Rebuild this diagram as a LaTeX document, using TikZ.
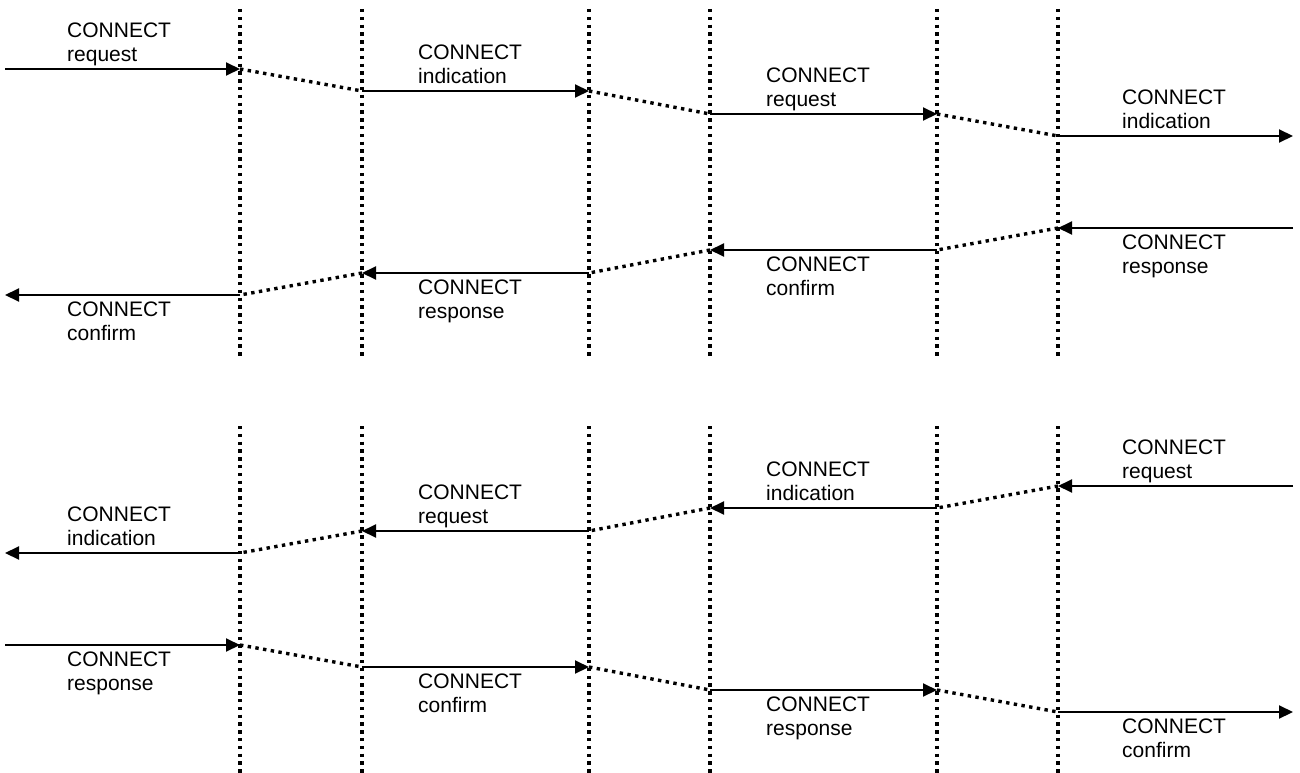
\documentclass[tikz,border=0pt]{standalone}
\usepackage{fontspec}
\setmainfont{Liberation Sans}
\usetikzlibrary{arrows.meta}
\begin{document}
\begin{tikzpicture}[x=1pt,y=-1pt,
		layer/.style={line width=3.4pt,dash pattern=on 3.4pt off 4.4pt},
		hop/.style={line width=3.4pt,dash pattern=on 3.4pt off 4.4pt},
		msg/.style={line width=2pt,-{Triangle[length=14pt,width=13pt]}},
		lbl/.style={anchor=north west,inner sep=0pt,align=left,font=\fontsize{21}{24}\selectfont}]
				\useasboundingbox (0,0) rectangle (1300,773);
				% service boundaries
				\foreach \x in {240,362,589,710,937,1058} {
					\coordinate (top\x) at (\x,9);
					\coordinate (mid\x) at (\x,356);
					\coordinate (low\x) at (\x,426);
					\coordinate (end\x) at (\x,773);
					\draw [layer] (top\x) -- (mid\x);
					\draw [layer] (low\x) -- (end\x);
				}
				% connect request -> indication
				\coordinate (A0) at (5,69);
				\coordinate (A1) at (240,69);
				\coordinate (A2) at (362,91);
				\coordinate (A3) at (589,91);
				\coordinate (A4) at (710,114);
				\coordinate (A5) at (937,114);
				\coordinate (A6) at (1058,136);
				\coordinate (A7) at (1293,136);
				\draw [msg] (A0) -- (A1);
				\draw [hop] (A1) -- (A2);
				\draw [msg] (A2) -- (A3);
				\draw [hop] (A3) -- (A4);
				\draw [msg] (A4) -- (A5);
				\draw [hop] (A5) -- (A6);
				\draw [msg] (A6) -- (A7);
				% connect response -> confirm
				\coordinate (B0) at (5,295);
				\coordinate (B1) at (240,295);
				\coordinate (B2) at (362,273);
				\coordinate (B3) at (589,273);
				\coordinate (B4) at (710,250);
				\coordinate (B5) at (937,250);
				\coordinate (B6) at (1058,228);
				\coordinate (B7) at (1293,228);
				\draw [msg] (B7) -- (B6);
				\draw [hop] (B6) -- (B5);
				\draw [msg] (B5) -- (B4);
				\draw [hop] (B4) -- (B3);
				\draw [msg] (B3) -- (B2);
				\draw [hop] (B2) -- (B1);
				\draw [msg] (B1) -- (B0);
				% reverse direction, request -> indication
				\coordinate (C0) at (5,553);
				\coordinate (C1) at (240,553);
				\coordinate (C2) at (362,531);
				\coordinate (C3) at (589,531);
				\coordinate (C4) at (710,508);
				\coordinate (C5) at (937,508);
				\coordinate (C6) at (1058,486);
				\coordinate (C7) at (1293,486);
				\draw [msg] (C7) -- (C6);
				\draw [hop] (C6) -- (C5);
				\draw [msg] (C5) -- (C4);
				\draw [hop] (C4) -- (C3);
				\draw [msg] (C3) -- (C2);
				\draw [hop] (C2) -- (C1);
				\draw [msg] (C1) -- (C0);
				% reverse direction, response -> confirm
				\coordinate (D0) at (5,645);
				\coordinate (D1) at (240,645);
				\coordinate (D2) at (362,667);
				\coordinate (D3) at (589,667);
				\coordinate (D4) at (710,690);
				\coordinate (D5) at (937,690);
				\coordinate (D6) at (1058,712);
				\coordinate (D7) at (1293,712);
				\draw [msg] (D0) -- (D1);
				\draw [hop] (D1) -- (D2);
				\draw [msg] (D2) -- (D3);
				\draw [hop] (D3) -- (D4);
				\draw [msg] (D4) -- (D5);
				\draw [hop] (D5) -- (D6);
				\draw [msg] (D6) -- (D7);
				% primitives
				\node [lbl] (a1) at (67,23) {CONNECT\\request};
				\node [lbl] (a2) at (418,45) {CONNECT\\indication};
				\node [lbl] (a3) at (766,68) {CONNECT\\request};
				\node [lbl] (a4) at (1122,90) {CONNECT\\indication};
				\node [lbl] (b1) at (67,302) {CONNECT\\confirm};
				\node [lbl] (b2) at (418,280) {CONNECT\\response};
				\node [lbl] (b3) at (766,257) {CONNECT\\confirm};
				\node [lbl] (b4) at (1122,235) {CONNECT\\response};
				\node [lbl] (c1) at (67,507) {CONNECT\\indication};
				\node [lbl] (c2) at (418,485) {CONNECT\\request};
				\node [lbl] (c3) at (766,462) {CONNECT\\indication};
				\node [lbl] (c4) at (1122,440) {CONNECT\\request};
				\node [lbl] (d1) at (67,652) {CONNECT\\response};
				\node [lbl] (d2) at (418,674) {CONNECT\\confirm};
				\node [lbl] (d3) at (766,697) {CONNECT\\response};
				\node [lbl] (d4) at (1122,719) {CONNECT\\confirm};
			\end{tikzpicture}
\end{document}
